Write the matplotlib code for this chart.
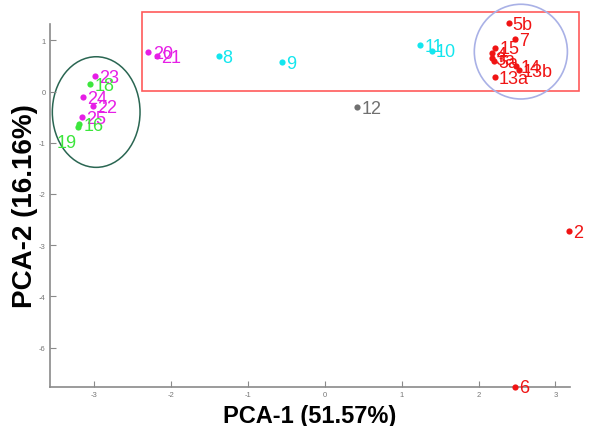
import matplotlib
matplotlib.use('Agg')
import matplotlib.pyplot as plt
from matplotlib.patches import Ellipse, Rectangle

plt.rcParams['font.family'] = ['Liberation Sans', 'DejaVu Sans']

# ────── data ──────
red_lab = ['5b', '7', '15', '4', '3a', '5a', '14', '13b', '13a', '2', '6']
red_x = [2.39, 2.47, 2.22, 2.18, 2.17, 2.20, 2.49, 2.52, 2.21, 3.18, 2.47]
red_y = [1.33, 1.03, 0.86, 0.76, 0.66, 0.59, 0.49, 0.42, 0.29, -2.72, -5.76]

cyan_lab = ['8', '9', '11', '10']
cyan_x = [-1.38, -0.55, 1.24, 1.39]
cyan_y = [0.70, 0.58, 0.91, 0.80]

gray_lab = ['12']
gray_x = [0.42]
gray_y = [-0.30]

mag_lab = ['20', '21', '23', '24', '22', '25']
mag_x = [-2.29, -2.18, -2.99, -3.14, -3.01, -3.15]
mag_y = [0.78, 0.70, 0.31, -0.10, -0.28, -0.50]

green_lab = ['18', '16', '19']
green_x = [-3.05, -3.19, -3.21]
green_y = [0.15, -0.63, -0.69]

x_ticks = [-3, -2, -1, 0, 1, 2, 3]
y_ticks = [-5, -4, -3, -2, -1, 0, 1]
y_tick_lab = ['-6', '-4', '-3', '-2', '-1', '0', '1']

groups = [
    (red_lab, red_x, red_y, '#f01414'),
    (cyan_lab, cyan_x, cyan_y, '#14e6ee'),
    (gray_lab, gray_x, gray_y, '#707070'),
    (mag_lab, mag_x, mag_y, '#e61ee6'),
    (green_lab, green_x, green_y, '#3ce63c'),
]

# ────── figure ──────
fig = plt.figure(figsize=(5.92, 4.27), dpi=100)
ax = fig.add_axes([0.0845, 0.0913, 0.8785, 0.8502])

for lab, xs, ys, col in groups:
    ax.scatter(xs, ys, s=20, color=col, zorder=3, clip_on=False, linewidths=0)
    for t, xv, yv in zip(lab, xs, ys):
        if t == '19':
            ax.annotate(t, (xv, yv), xytext=(-1, -11), textcoords='offset points',
                        ha='right', va='center', color=col, fontsize=13,
                        annotation_clip=False)
        else:
            ax.annotate(t, (xv, yv), xytext=(3, -1), textcoords='offset points',
                        ha='left', va='center', color=col, fontsize=13,
                        annotation_clip=False)

# 群組框線
ax.add_patch(Rectangle((-2.37, 0.01), 5.68, 1.54, fill=False,
                       edgecolor='#ff5a5a', lw=1.2, clip_on=False))
ax.add_patch(Ellipse((2.55, 0.78), 1.21, 1.85, fill=False,
                     edgecolor='#a9b1e6', lw=1.2, clip_on=False))
ax.add_patch(Ellipse((-2.97, -0.40), 1.14, 2.16, fill=False,
                     edgecolor='#2a6652', lw=1.1, clip_on=False))

ax.set_xlim(-3.57, 3.19)
ax.set_ylim(-5.77, 1.32)
ax.set_xticks(x_ticks)
ax.set_xticklabels([str(v) for v in x_ticks])
ax.set_yticks(y_ticks)
ax.set_yticklabels(y_tick_lab)

for s in ['top', 'right']:
    ax.spines[s].set_visible(False)
for s in ['left', 'bottom']:
    ax.spines[s].set_color('#8a8a8a')
    ax.spines[s].set_linewidth(1.2)
ax.tick_params(direction='in', length=4, color='#8a8a8a', labelsize=5.5,
               labelcolor='#777777', pad=3)

ax.set_xlabel('PCA-1 (51.57%)', fontsize=17, fontweight='bold', labelpad=4)
ax.set_ylabel('PCA-2 (16.16%)', fontsize=20, fontweight='bold')
ax.yaxis.set_label_coords(-0.024, 0.5)

fig.savefig('out.png', dpi=100)
